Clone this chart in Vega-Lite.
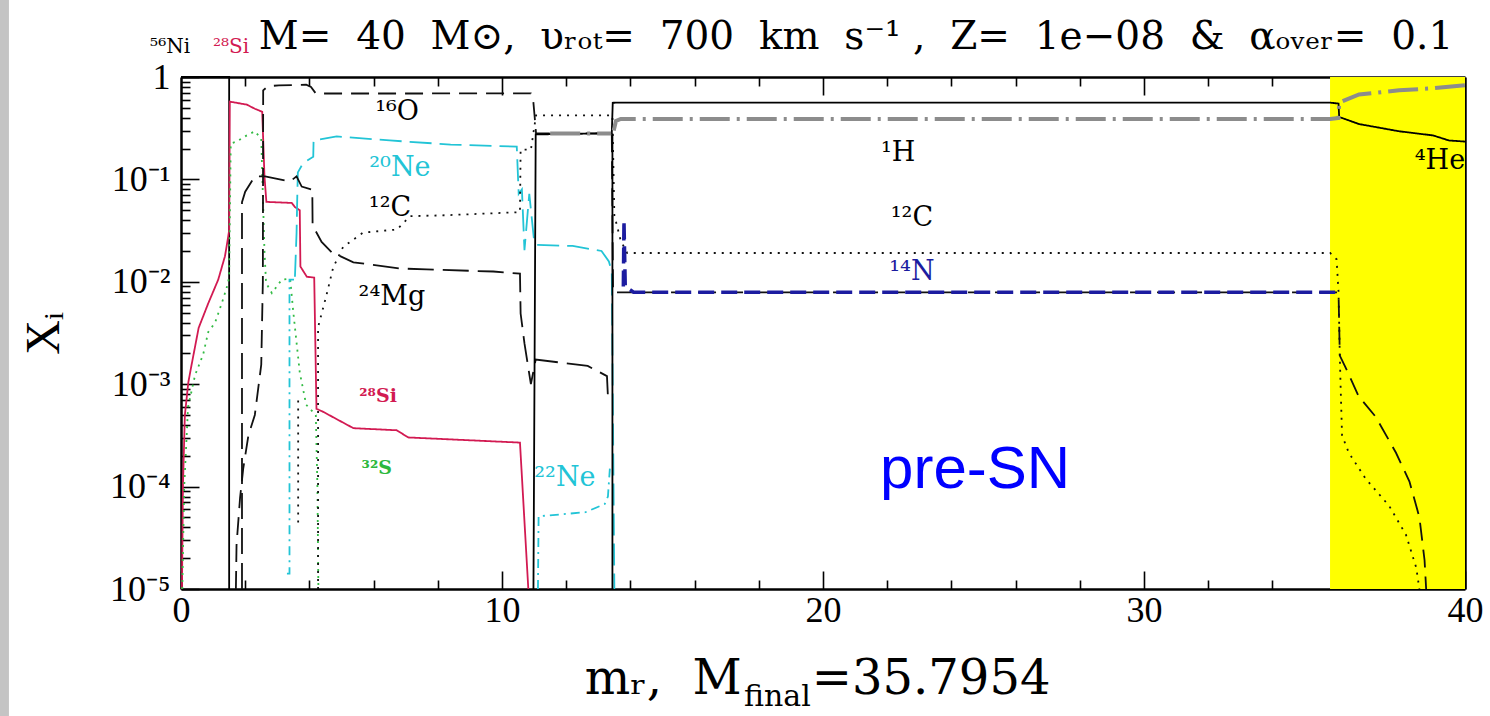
{
  "$schema": "https://vega.github.io/schema/vega-lite/v6.json",
  "width": 1284,
  "height": 512,
  "autosize": {"type": "none"},
  "padding": {"left": 181, "top": 77, "right": 25, "bottom": 127},
  "background": "white",
  "title": {
    "text": "M=\u00a0 40\u00a0 M⊙,\u00a0 υᵣₒₜ=\u00a0 700\u00a0 km\u00a0 s⁻¹ ,\u00a0 Z=\u00a0 1e−08\u00a0 &\u00a0 αₒᵥₑᵣ=\u00a0 0.1",
    "font": "DejaVu Serif",
    "fontSize": 39,
    "fontWeight": "normal",
    "color": "black",
    "anchor": "middle",
    "frame": "group",
    "baseline": "alphabetic",
    "dx": 33,
    "offset": -88
  },
  "config": {
    "view": {"stroke": null},
    "font": "Liberation Serif",
    "axis": {
      "grid": false,
      "tickColor": "black",
      "tickWidth": 1.6,
      "domainColor": "black",
      "domainWidth": 2.5,
      "labelFont": "Liberation Serif",
      "labelFontSize": 36,
      "labelColor": "black",
      "labelFlush": false,
      "labelOverlap": false,
      "zindex": 1
    }
  },
  "datasets": {
    "profiles": [
      {"s":"Ni56","p":1,"k":1,"m":0,"X":1},
      {"s":"Ni56","p":1,"k":2,"m":1.5,"X":1},
      {"s":"Ni56","p":1,"k":3,"m":1.5,"X":1e-5},
      {"s":"Si28","p":1,"k":4,"m":0.03,"X":1e-5},
      {"s":"Si28","p":1,"k":5,"m":0.06,"X":1e-4},
      {"s":"Si28","p":1,"k":6,"m":0.12,"X":5e-4},
      {"s":"Si28","p":1,"k":7,"m":0.23,"X":1.05e-3},
      {"s":"Si28","p":1,"k":8,"m":0.33,"X":1.55e-3},
      {"s":"Si28","p":1,"k":9,"m":0.55,"X":3.55e-3},
      {"s":"Si28","p":1,"k":10,"m":0.85,"X":6.17e-3},
      {"s":"Si28","p":1,"k":11,"m":1.16,"X":1.05e-2},
      {"s":"Si28","p":1,"k":12,"m":1.37,"X":1.78e-2},
      {"s":"Si28","p":1,"k":13,"m":1.47,"X":2.75e-2},
      {"s":"Si28","p":1,"k":14,"m":1.5,"X":3.2e-2},
      {"s":"Si28","p":1,"k":15,"m":1.52,"X":0.575},
      {"s":"Si28","p":1,"k":16,"m":2.05,"X":0.537},
      {"s":"Si28","p":1,"k":17,"m":2.3,"X":0.49},
      {"s":"Si28","p":1,"k":18,"m":2.53,"X":0.457},
      {"s":"Si28","p":1,"k":19,"m":2.6,"X":0.107},
      {"s":"Si28","p":1,"k":20,"m":2.66,"X":0.0603},
      {"s":"Si28","p":1,"k":21,"m":3.45,"X":0.0589},
      {"s":"Si28","p":1,"k":22,"m":3.55,"X":0.0537},
      {"s":"Si28","p":1,"k":23,"m":3.7,"X":0.05},
      {"s":"Si28","p":1,"k":24,"m":3.72,"X":0.0141},
      {"s":"Si28","p":1,"k":25,"m":3.92,"X":0.0112},
      {"s":"Si28","p":1,"k":26,"m":4.15,"X":0.011},
      {"s":"Si28","p":1,"k":27,"m":4.22,"X":5.75e-4},
      {"s":"Si28","p":1,"k":28,"m":4.43,"X":5.37e-4},
      {"s":"Si28","p":1,"k":29,"m":5.37,"X":3.72e-4},
      {"s":"Si28","p":1,"k":30,"m":6.72,"X":3.55e-4},
      {"s":"Si28","p":1,"k":31,"m":7.08,"X":3.02e-4},
      {"s":"Si28","p":1,"k":32,"m":10.56,"X":2.69e-4},
      {"s":"Si28","p":1,"k":33,"m":10.82,"X":1e-5},
      {"s":"S32","p":1,"k":34,"m":0.04,"X":1e-5},
      {"s":"S32","p":1,"k":35,"m":0.1,"X":1e-4},
      {"s":"S32","p":1,"k":36,"m":0.22,"X":6e-4},
      {"s":"S32","p":1,"k":37,"m":0.44,"X":1.23e-3},
      {"s":"S32","p":1,"k":38,"m":0.69,"X":1.95e-3},
      {"s":"S32","p":1,"k":39,"m":0.85,"X":3.24e-3},
      {"s":"S32","p":1,"k":40,"m":1.06,"X":3.98e-3},
      {"s":"S32","p":1,"k":41,"m":1.27,"X":6.17e-3},
      {"s":"S32","p":1,"k":42,"m":1.47,"X":9.77e-3},
      {"s":"S32","p":1,"k":43,"m":1.5,"X":0.012},
      {"s":"S32","p":1,"k":44,"m":1.55,"X":0.224},
      {"s":"S32","p":1,"k":45,"m":1.73,"X":0.234},
      {"s":"S32","p":1,"k":46,"m":2.05,"X":0.269},
      {"s":"S32","p":1,"k":47,"m":2.3,"X":0.295},
      {"s":"S32","p":1,"k":48,"m":2.5,"X":0.25},
      {"s":"S32","p":1,"k":49,"m":2.6,"X":0.02},
      {"s":"S32","p":1,"k":50,"m":2.65,"X":0.00977},
      {"s":"S32","p":1,"k":51,"m":2.83,"X":0.00776},
      {"s":"S32","p":1,"k":52,"m":3.14,"X":0.0105},
      {"s":"S32","p":1,"k":53,"m":3.4,"X":0.0107},
      {"s":"S32","p":1,"k":54,"m":3.5,"X":0.005},
      {"s":"S32","p":1,"k":55,"m":3.7,"X":1.3e-3},
      {"s":"S32","p":1,"k":56,"m":3.9,"X":6.3e-4},
      {"s":"S32","p":1,"k":57,"m":4.2,"X":5e-4},
      {"s":"S32","p":1,"k":58,"m":4.25,"X":1e-4},
      {"s":"S32","p":1,"k":59,"m":4.28,"X":1e-5},
      {"s":"O16","p":1,"k":60,"m":1.71,"X":1e-5},
      {"s":"O16","p":1,"k":61,"m":1.73,"X":2.69e-5},
      {"s":"O16","p":1,"k":62,"m":1.84,"X":7.76e-5},
      {"s":"O16","p":1,"k":63,"m":1.94,"X":1.51e-4},
      {"s":"O16","p":1,"k":64,"m":2.1,"X":3.16e-4},
      {"s":"O16","p":1,"k":65,"m":2.3,"X":5.01e-4},
      {"s":"O16","p":1,"k":66,"m":2.5,"X":1.55e-3},
      {"s":"O16","p":1,"k":67,"m":2.55,"X":0.01},
      {"s":"O16","p":1,"k":68,"m":2.56,"X":0.74},
      {"s":"O16","p":1,"k":69,"m":2.7,"X":0.81},
      {"s":"O16","p":1,"k":70,"m":3.05,"X":0.83},
      {"s":"O16","p":1,"k":71,"m":3.9,"X":0.84},
      {"s":"O16","p":1,"k":72,"m":4.05,"X":0.8},
      {"s":"O16","p":1,"k":73,"m":4.2,"X":0.69},
      {"s":"O16","p":1,"k":74,"m":7,"X":0.69},
      {"s":"O16","p":1,"k":75,"m":10.9,"X":0.692},
      {"s":"O16","p":1,"k":76,"m":10.97,"X":0.603},
      {"s":"O16","p":1,"k":77,"m":11.02,"X":0.4},
      {"s":"O16","p":1,"k":78,"m":11.06,"X":0.282},
      {"s":"O16","p":1,"k":79,"m":13.42,"X":0.282},
      {"s":"O16","p":1,"k":80,"m":13.46,"X":0.0079},
      {"s":"O16","p":1,"k":81,"m":36.06,"X":0.0079},
      {"s":"O16","p":1,"k":82,"m":36.1,"X":1.9e-3},
      {"s":"O16","p":1,"k":83,"m":36.27,"X":1.48e-3},
      {"s":"O16","p":1,"k":84,"m":36.69,"X":7.59e-4},
      {"s":"O16","p":1,"k":85,"m":37.22,"X":4.79e-4},
      {"s":"O16","p":1,"k":86,"m":37.85,"X":2.14e-4},
      {"s":"O16","p":1,"k":87,"m":38.27,"X":1.12e-4},
      {"s":"O16","p":1,"k":88,"m":38.58,"X":5.01e-5},
      {"s":"O16","p":1,"k":89,"m":38.74,"X":1.91e-5},
      {"s":"O16","p":1,"k":90,"m":38.79,"X":1e-5},
      {"s":"Ne20","p":1,"k":91,"m":3.55,"X":0.0112},
      {"s":"Ne20","p":1,"k":92,"m":3.6,"X":0.03},
      {"s":"Ne20","p":1,"k":93,"m":3.62,"X":0.063},
      {"s":"Ne20","p":1,"k":94,"m":3.64,"X":0.117},
      {"s":"Ne20","p":1,"k":95,"m":3.81,"X":0.145},
      {"s":"Ne20","p":1,"k":96,"m":4.12,"X":0.166},
      {"s":"Ne20","p":1,"k":97,"m":4.13,"X":0.24},
      {"s":"Ne20","p":1,"k":98,"m":4.85,"X":0.263},
      {"s":"Ne20","p":1,"k":99,"m":6.5,"X":0.24},
      {"s":"Ne20","p":1,"k":100,"m":8.4,"X":0.219},
      {"s":"Ne20","p":1,"k":101,"m":10.46,"X":0.209},
      {"s":"Ne20","p":1,"k":102,"m":10.52,"X":0.0724},
      {"s":"Ne20","p":1,"k":103,"m":10.62,"X":0.08},
      {"s":"Ne20","p":1,"k":104,"m":10.7,"X":0.0204},
      {"s":"Ne20","p":1,"k":105,"m":10.85,"X":0.0724},
      {"s":"Ne20","p":1,"k":106,"m":11.0,"X":0.0251},
      {"s":"Ne20","p":1,"k":107,"m":11.08,"X":0.0229},
      {"s":"Ne20","p":1,"k":108,"m":12.2,"X":0.0224},
      {"s":"Ne20","p":1,"k":109,"m":13.1,"X":0.02},
      {"s":"Ne20","p":1,"k":110,"m":13.33,"X":0.0158},
      {"s":"Ne20","p":1,"k":111,"m":13.42,"X":0.0126},
      {"s":"Ne20","p":1,"k":112,"m":13.5,"X":1e-5},
      {"s":"Ne22","p":1,"k":113,"m":3.3,"X":1.41e-5},
      {"s":"Ne22","p":1,"k":114,"m":3.38,"X":1.41e-5},
      {"s":"Ne22","p":1,"k":115,"m":3.38,"X":0.0105},
      {"s":"Ne22","p":1,"k":116,"m":3.52,"X":0.0105},
      {"s":"Ne22","p":2,"k":117,"m":11.12,"X":1e-5},
      {"s":"Ne22","p":2,"k":118,"m":11.14,"X":5.13e-5},
      {"s":"Ne22","p":2,"k":119,"m":12.6,"X":5.62e-5},
      {"s":"Ne22","p":2,"k":120,"m":13.2,"X":6.76e-5},
      {"s":"Ne22","p":2,"k":121,"m":13.3,"X":8e-5},
      {"s":"Ne22","p":2,"k":122,"m":13.36,"X":1.5e-4},
      {"s":"C12","p":1,"k":123,"m":3.65,"X":4.47e-5},
      {"s":"C12","p":1,"k":124,"m":3.65,"X":6.92e-4},
      {"s":"C12","p":2,"k":125,"m":4.27,"X":1e-5},
      {"s":"C12","p":2,"k":126,"m":4.27,"X":3.6e-3},
      {"s":"C12","p":2,"k":127,"m":4.55,"X":7.8e-3},
      {"s":"C12","p":2,"k":128,"m":4.74,"X":0.0138},
      {"s":"C12","p":2,"k":129,"m":5.05,"X":0.0219},
      {"s":"C12","p":2,"k":130,"m":5.67,"X":0.0302},
      {"s":"C12","p":2,"k":131,"m":6.73,"X":0.0324},
      {"s":"C12","p":2,"k":132,"m":7.13,"X":0.0437},
      {"s":"C12","p":2,"k":133,"m":8.28,"X":0.0447},
      {"s":"C12","p":2,"k":134,"m":10.56,"X":0.0479},
      {"s":"C12","p":2,"k":135,"m":10.58,"X":0.195},
      {"s":"C12","p":2,"k":136,"m":10.9,"X":0.195},
      {"s":"C12","p":2,"k":137,"m":11.06,"X":0.422},
      {"s":"C12","p":2,"k":138,"m":13.44,"X":0.422},
      {"s":"C12","p":2,"k":139,"m":13.5,"X":0.0447},
      {"s":"C12","p":2,"k":140,"m":13.7,"X":0.0251},
      {"s":"C12","p":2,"k":141,"m":13.9,"X":0.0191},
      {"s":"C12","p":2,"k":142,"m":35.8,"X":0.0191},
      {"s":"C12","p":2,"k":143,"m":36.0,"X":0.0166},
      {"s":"C12","p":2,"k":144,"m":36.06,"X":0.00794},
      {"s":"C12","p":2,"k":145,"m":36.1,"X":1.9e-3},
      {"s":"C12","p":2,"k":146,"m":36.12,"X":1.07e-3},
      {"s":"C12","p":2,"k":147,"m":36.17,"X":3.16e-4},
      {"s":"C12","p":2,"k":148,"m":36.38,"X":2.14e-4},
      {"s":"C12","p":2,"k":149,"m":36.9,"X":1.2e-4},
      {"s":"C12","p":2,"k":150,"m":37.64,"X":6.46e-5},
      {"s":"C12","p":2,"k":151,"m":38.16,"X":3.39e-5},
      {"s":"C12","p":2,"k":152,"m":38.48,"X":1.62e-5},
      {"s":"C12","p":2,"k":153,"m":38.58,"X":1e-5},
      {"s":"Mg24","p":1,"k":154,"m":1.9,"X":1e-5},
      {"s":"Mg24","p":1,"k":155,"m":1.9,"X":0.06},
      {"s":"Mg24","p":1,"k":156,"m":2.0,"X":0.0759},
      {"s":"Mg24","p":1,"k":157,"m":2.3,"X":0.107},
      {"s":"Mg24","p":1,"k":158,"m":2.62,"X":0.107},
      {"s":"Mg24","p":1,"k":159,"m":3.4,"X":0.0955},
      {"s":"Mg24","p":1,"k":160,"m":3.6,"X":0.107},
      {"s":"Mg24","p":1,"k":161,"m":3.76,"X":0.0851},
      {"s":"Mg24","p":1,"k":162,"m":4.09,"X":0.0794},
      {"s":"Mg24","p":1,"k":163,"m":4.1,"X":0.0355},
      {"s":"Mg24","p":1,"k":164,"m":4.38,"X":0.0245},
      {"s":"Mg24","p":1,"k":165,"m":4.69,"X":0.0195},
      {"s":"Mg24","p":1,"k":166,"m":5.37,"X":0.0155},
      {"s":"Mg24","p":1,"k":167,"m":6.82,"X":0.0135},
      {"s":"Mg24","p":1,"k":168,"m":7.65,"X":0.0132},
      {"s":"Mg24","p":1,"k":169,"m":9.73,"X":0.0126},
      {"s":"Mg24","p":1,"k":170,"m":10.56,"X":0.012},
      {"s":"Mg24","p":1,"k":171,"m":10.58,"X":0.0049},
      {"s":"Mg24","p":1,"k":172,"m":10.7,"X":0.0025},
      {"s":"Mg24","p":1,"k":173,"m":10.9,"X":0.001},
      {"s":"Mg24","p":1,"k":174,"m":11.05,"X":0.00174},
      {"s":"Mg24","p":1,"k":175,"m":12.67,"X":0.00151},
      {"s":"Mg24","p":1,"k":176,"m":13.27,"X":0.0012},
      {"s":"Mg24","p":1,"k":177,"m":13.3,"X":7.59e-4},
      {"s":"He4","p":1,"k":178,"m":10.98,"X":1e-5},
      {"s":"He4","p":1,"k":179,"m":11.05,"X":0.275},
      {"s":"He4","p":1,"k":180,"m":13.42,"X":0.282},
      {"s":"He4","p":1,"k":181,"m":13.45,"X":0.56},
      {"s":"He4","p":1,"k":182,"m":13.6,"X":0.562},
      {"s":"He4","p":1,"k":183,"m":35.8,"X":0.562},
      {"s":"He4","p":1,"k":184,"m":36.06,"X":0.55},
      {"s":"He4","p":1,"k":185,"m":36.08,"X":0.407},
      {"s":"He4","p":1,"k":186,"m":36.7,"X":0.347},
      {"s":"He4","p":1,"k":187,"m":37.95,"X":0.295},
      {"s":"He4","p":1,"k":188,"m":39,"X":0.269},
      {"s":"He4","p":1,"k":189,"m":39.5,"X":0.24},
      {"s":"He4","p":1,"k":190,"m":40,"X":0.234},
      {"s":"He4","p":2,"k":191,"m":13.44,"X":1e-5},
      {"s":"He4","p":2,"k":192,"m":13.44,"X":0.28},
      {"s":"H1","p":1,"k":193,"m":11.5,"X":0.28},
      {"s":"H1","p":1,"k":194,"m":13.4,"X":0.28},
      {"s":"H1","p":2,"k":195,"m":13.48,"X":0.3},
      {"s":"H1","p":2,"k":196,"m":13.55,"X":0.372},
      {"s":"H1","p":2,"k":197,"m":13.7,"X":0.389},
      {"s":"H1","p":2,"k":198,"m":35.8,"X":0.389},
      {"s":"H1","p":2,"k":199,"m":36.06,"X":0.398},
      {"s":"H1","p":2,"k":200,"m":36.08,"X":0.562},
      {"s":"H1","p":2,"k":201,"m":36.7,"X":0.676},
      {"s":"H1","p":2,"k":202,"m":37.95,"X":0.741},
      {"s":"H1","p":2,"k":203,"m":39,"X":0.776},
      {"s":"H1","p":2,"k":204,"m":40,"X":0.832},
      {"s":"N14","p":1,"k":205,"m":13.78,"X":0.009},
      {"s":"N14","p":1,"k":206,"m":13.8,"X":0.0398},
      {"s":"N14","p":1,"k":207,"m":13.84,"X":0.009},
      {"s":"N14","p":1,"k":208,"m":14.1,"X":0.0079},
      {"s":"N14","p":1,"k":209,"m":36.06,"X":0.0079}
    ],
    "labels": [
      {"s":"Ni56","t":"⁵⁶Ni","kind":"top","m":-0.34,"X":1.95},
      {"s":"Si28","t":"²⁸Si","kind":"top","m":1.56,"X":1.95},
      {"s":"O16","t":"¹⁶O","kind":"main","m":6.73,"X":0.455},
      {"s":"Ne20","t":"²⁰Ne","kind":"main","m":6.82,"X":0.129},
      {"s":"C12","t":"¹²C","kind":"main","m":6.51,"X":0.0526},
      {"s":"Mg24","t":"²⁴Mg","kind":"main","m":6.57,"X":0.00711},
      {"s":"Si28","t":"²⁸Si","kind":"small","m":6.14,"X":7.67e-4},
      {"s":"S32","t":"³²S","kind":"small","m":6.1,"X":1.52e-4},
      {"s":"Ne22","t":"²²Ne","kind":"main","m":11.96,"X":1.21e-4},
      {"s":"H1","t":"¹H","kind":"main","m":22.34,"X":0.181},
      {"s":"C12","t":"¹²C","kind":"main","m":22.77,"X":0.042},
      {"s":"N14","t":"¹⁴N","kind":"main","m":22.77,"X":0.0125},
      {"s":"He4","t":"⁴He","kind":"main","m":39.22,"X":0.151}
    ],
    "notes": [
      {"t":"pre-SN","m":24.74,"X":1.45e-4}
    ]
  },
  "layer": [
    {
      "data": {"values": [{"lo": 35.7954, "hi": 40, "bot": 1e-5, "top": 1}]},
      "mark": {"type": "rect", "color": "#ffff00"},
      "encoding": {
        "x": {"field": "lo", "type": "quantitative", "scale": {"domain": [0, 40], "nice": false, "zero": false},
              "axis": {"orient": "bottom", "values": [0, 10, 20, 30, 40], "tickSize": -18, "labelPadding": 22, "format": "d", "title": null}},
        "x2": {"field": "hi"},
        "y": {"field": "bot", "type": "quantitative", "scale": {"type": "log", "domain": [1e-5, 1], "nice": false},
              "axis": {"orient": "left", "values": [1e-5, 1e-4, 0.001, 0.01, 0.1, 1], "tickSize": -18, "labelPadding": 29,
                       "labelExpr": "datum.value > 0.5 ? '1' : '10⁻' + ['', '¹', '²', '³', '⁴', '⁵'][round(-log(datum.value) / LN10)]",
                       "title": "Xᵢ", "titleFont": "Liberation Serif", "titleFontSize": 48, "titleFontWeight": "normal", "titleColor": "black", "titlePadding": 41}},
        "y2": {"field": "top"}
      }
    },
    {
      "data": {"values": [{}]},
      "mark": {"type": "rect", "color": "#c4c4c4"},
      "encoding": {
        "x": {"datum": -5.64, "type": "quantitative", "scale": {"domain": [0, 40], "nice": false, "zero": false}, "axis": null},
        "x2": {"datum": -5.36},
        "y": {"datum": 5.7e-7, "type": "quantitative", "scale": {"type": "log", "domain": [1e-5, 1], "nice": false}, "axis": null},
        "y2": {"datum": 5.65}
      }
    },
    {
      "data": {"name": "profiles"},
      "transform": [{"filter": "datum.s !== 'H1' && datum.s !== 'N14'"}],
      "mark": {"type": "line", "strokeWidth": 1.8, "strokeCap": "butt"},
      "encoding": {
        "x": {"field": "m", "type": "quantitative", "scale": {"domain": [0, 40], "nice": false, "zero": false},
              "axis": {"orient": "bottom", "values": [2, 4, 6, 8, 12, 14, 16, 18, 22, 24, 26, 28, 32, 34, 36, 38], "tickSize": -9, "labels": false, "domain": false, "title": null}},
        "y": {"field": "X", "type": "quantitative", "scale": {"type": "log", "domain": [1e-5, 1], "nice": false},
              "axis": {"orient": "left", "values": [2e-5,3e-5,4e-5,5e-5,6e-5,7e-5,8e-5,9e-5,2e-4,3e-4,4e-4,5e-4,6e-4,7e-4,8e-4,9e-4,0.002,0.003,0.004,0.005,0.006,0.007,0.008,0.009,0.02,0.03,0.04,0.05,0.06,0.07,0.08,0.09,0.2,0.3,0.4,0.5,0.6,0.7,0.8,0.9],
                       "tickSize": -9, "labels": false, "domain": false, "title": null}},
        "color": {"field": "s", "type": "nominal", "legend": null,
                  "scale": {"domain": ["Ni56","Si28","S32","O16","Ne20","Ne22","C12","Mg24","He4"],
                            "range": ["#000000","#d21a52","#33bb44","#111111","#22c4d6","#22c4d6","#111111","#111111","#000000"]}},
        "strokeDash": {"field": "s", "type": "nominal", "legend": null,
                       "scale": {"domain": ["Ni56","Si28","S32","O16","Ne20","Ne22","C12","Mg24","He4"],
                                 "range": [[1,0],[1,0],[2,5],[18,9],[22,8],[9,5,2,5],[2,6],[26,9],[1,0]]}},
        "detail": {"field": "p"},
        "order": {"field": "k"}
      }
    },
    {
      "data": {"name": "profiles"},
      "transform": [{"filter": "datum.s === 'H1'"}],
      "mark": {"type": "line", "strokeWidth": 4, "color": "#8c8c8c", "strokeDash": [30, 7, 3, 7], "strokeCap": "butt"},
      "encoding": {
        "x": {"field": "m", "type": "quantitative", "scale": {"domain": [0, 40], "nice": false, "zero": false},
              "axis": {"orient": "top", "values": [10, 20, 30], "tickSize": -18, "labels": false, "title": null}},
        "y": {"field": "X", "type": "quantitative", "scale": {"type": "log", "domain": [1e-5, 1], "nice": false},
              "axis": {"orient": "right", "values": [1e-4, 0.001, 0.01, 0.1], "tickSize": -18, "labels": false, "title": null}},
        "detail": {"field": "p"},
        "order": {"field": "k"}
      }
    },
    {
      "data": {"name": "profiles"},
      "transform": [{"filter": "datum.s === 'N14'"}],
      "mark": {"type": "line", "strokeWidth": 3.5, "color": "#1c1ca0", "strokeDash": [16, 7], "strokeCap": "butt"},
      "encoding": {
        "x": {"field": "m", "type": "quantitative", "scale": {"domain": [0, 40], "nice": false, "zero": false},
              "axis": {"orient": "top", "values": [2, 4, 6, 8, 12, 14, 16, 18, 22, 24, 26, 28, 32, 34, 36, 38], "tickSize": -9, "labels": false, "domain": false, "title": null}},
        "y": {"field": "X", "type": "quantitative", "scale": {"type": "log", "domain": [1e-5, 1], "nice": false},
              "axis": {"orient": "right", "values": [2e-5,3e-5,4e-5,5e-5,6e-5,7e-5,8e-5,9e-5,2e-4,3e-4,4e-4,5e-4,6e-4,7e-4,8e-4,9e-4,0.002,0.003,0.004,0.005,0.006,0.007,0.008,0.009,0.02,0.03,0.04,0.05,0.06,0.07,0.08,0.09,0.2,0.3,0.4,0.5,0.6,0.7,0.8,0.9],
                       "tickSize": -9, "labels": false, "domain": false, "title": null}},
        "detail": {"field": "p"},
        "order": {"field": "k"}
      }
    },
    {
      "data": {"name": "labels"},
      "transform": [{"filter": "datum.kind === 'main'"}],
      "mark": {"type": "text", "font": "DejaVu Serif", "fontSize": 27, "align": "center", "baseline": "middle"},
      "encoding": {
        "x": {"field": "m", "type": "quantitative", "scale": {"domain": [0, 40], "nice": false, "zero": false}, "axis": null},
        "y": {"field": "X", "type": "quantitative", "scale": {"type": "log", "domain": [1e-5, 1], "nice": false}, "axis": null},
        "text": {"field": "t"},
        "color": {"field": "s", "type": "nominal", "legend": null,
                  "scale": {"domain": ["Ni56","Si28","S32","O16","Ne20","Ne22","C12","Mg24","H1","He4","N14"],
                            "range": ["#000000","#d21a52","#2db83d","#000000","#22c4d6","#22c4d6","#000000","#000000","#000000","#000000","#1c1ca0"]}}
      }
    },
    {
      "data": {"name": "labels"},
      "transform": [{"filter": "datum.kind === 'small'"}],
      "mark": {"type": "text", "font": "DejaVu Serif", "fontSize": 19, "fontWeight": "bold", "align": "center", "baseline": "middle"},
      "encoding": {
        "x": {"field": "m", "type": "quantitative", "scale": {"domain": [0, 40], "nice": false, "zero": false}, "axis": null},
        "y": {"field": "X", "type": "quantitative", "scale": {"type": "log", "domain": [1e-5, 1], "nice": false}, "axis": null},
        "text": {"field": "t"},
        "color": {"field": "s", "type": "nominal", "legend": null,
                  "scale": {"domain": ["Ni56","Si28","S32","O16","Ne20","Ne22","C12","Mg24","H1","He4","N14"],
                            "range": ["#000000","#d21a52","#2db83d","#000000","#22c4d6","#22c4d6","#000000","#000000","#000000","#000000","#1c1ca0"]}}
      }
    },
    {
      "data": {"name": "labels"},
      "transform": [{"filter": "datum.kind === 'top'"}],
      "mark": {"type": "text", "font": "DejaVu Serif", "fontSize": 20, "align": "center", "baseline": "middle"},
      "encoding": {
        "x": {"field": "m", "type": "quantitative", "scale": {"domain": [0, 40], "nice": false, "zero": false}, "axis": null},
        "y": {"field": "X", "type": "quantitative", "scale": {"type": "log", "domain": [1e-5, 1], "nice": false}, "axis": null},
        "text": {"field": "t"},
        "color": {"field": "s", "type": "nominal", "legend": null,
                  "scale": {"domain": ["Ni56","Si28","S32","O16","Ne20","Ne22","C12","Mg24","H1","He4","N14"],
                            "range": ["#000000","#d21a52","#2db83d","#000000","#22c4d6","#22c4d6","#000000","#000000","#000000","#000000","#1c1ca0"]}}
      }
    },
    {
      "data": {"name": "notes"},
      "mark": {"type": "text", "font": "Liberation Sans", "fontSize": 60, "color": "#0000ff", "align": "center", "baseline": "middle"},
      "encoding": {
        "x": {"field": "m", "type": "quantitative", "scale": {"domain": [0, 40], "nice": false, "zero": false}, "axis": null},
        "y": {"field": "X", "type": "quantitative", "scale": {"type": "log", "domain": [1e-5, 1], "nice": false}, "axis": null},
        "text": {"field": "t"}
      }
    },
    {
      "data": {"values": [{}]},
      "mark": {"type": "text", "font": "DejaVu Serif", "fontSize": 48, "color": "black", "align": "left", "baseline": "alphabetic"},
      "encoding": {
        "x": {"datum": 19.65, "type": "quantitative", "scale": {"domain": [0, 40], "nice": false, "zero": false}, "axis": null},
        "y": {"datum": 9.44e-7, "type": "quantitative", "scale": {"type": "log", "domain": [1e-5, 1], "nice": false}, "axis": null},
        "text": {"value": "=35.7954"}
      }
    },
    {
      "data": {"values": [{}]},
      "mark": {"type": "text", "font": "DejaVu Serif", "fontSize": 30, "color": "black", "align": "right", "baseline": "alphabetic", "dx": -1},
      "encoding": {
        "x": {"datum": 19.65, "type": "quantitative", "scale": {"domain": [0, 40], "nice": false, "zero": false}, "axis": null},
        "y": {"datum": 7.2e-7, "type": "quantitative", "scale": {"type": "log", "domain": [1e-5, 1], "nice": false}, "axis": null},
        "text": {"value": "final"}
      }
    },
    {
      "data": {"values": [{}]},
      "mark": {"type": "text", "font": "DejaVu Serif", "fontSize": 48, "color": "black", "align": "right", "baseline": "alphabetic", "dx": -70},
      "encoding": {
        "x": {"datum": 19.65, "type": "quantitative", "scale": {"domain": [0, 40], "nice": false, "zero": false}, "axis": null},
        "y": {"datum": 9.44e-7, "type": "quantitative", "scale": {"type": "log", "domain": [1e-5, 1], "nice": false}, "axis": null},
        "text": {"value": "mᵣ,\u00a0 M"}
      }
    }
  ],
  "resolve": {
    "axis": {"x": "independent", "y": "independent"},
    "scale": {"color": "independent", "strokeDash": "independent"}
  }
}
